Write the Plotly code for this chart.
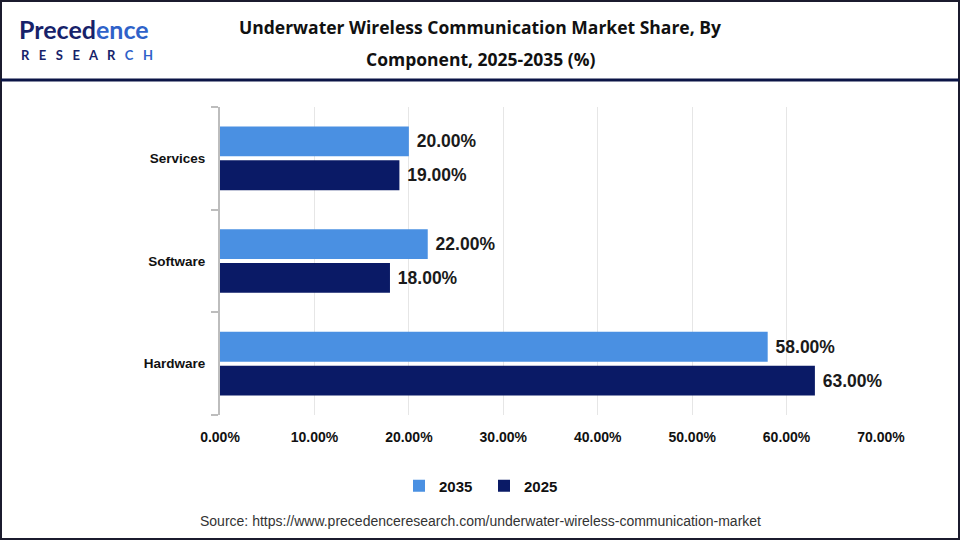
import plotly.graph_objects as go

categories = ["Hardware", "Software", "Services"]
values_2025 = [63.0, 18.0, 19.0]
values_2035 = [58.0, 22.0, 20.0]
x_ticks = [0, 10, 20, 30, 40, 50, 60, 70]
x_tick_labels = ["0.00%", "10.00%", "20.00%", "30.00%", "40.00%", "50.00%", "60.00%", "70.00%"]

W, H = 960, 540
ML, MR, MT, MB = 220, 79, 107, 125
PW, PH = W - ML - MR, H - MT - MB

def px(x):
    return (x - ML) / PW

def py(y):
    return (H - MB - y) / PH

LIGHT = "#4A90E2"
DARK = "#0A1A66"
FONT = "Liberation Sans, Arial, sans-serif"

fig = go.Figure()
fig.add_trace(go.Bar(
    y=categories, x=values_2025, orientation="h", name="2025",
    marker=dict(color=DARK, line=dict(width=0)),
    text=[f" {v:.2f}%" for v in values_2025], textposition="outside",
    textfont=dict(size=17.5, color="#1a1a1a", family=FONT, weight="bold"),
    cliponaxis=False, constraintext="none",
))
fig.add_trace(go.Bar(
    y=categories, x=values_2035, orientation="h", name="2035",
    marker=dict(color=LIGHT, line=dict(width=0)),
    text=[f" {v:.2f}%" for v in values_2035], textposition="outside",
    textfont=dict(size=17.5, color="#1a1a1a", family=FONT, weight="bold"),
    cliponaxis=False, constraintext="none",
))

shapes = [
    dict(type="rect", xref="paper", yref="paper",
         x0=px(1), x1=px(W - 1), y0=py(1), y1=py(H - 1),
         line=dict(color="#1b1b2e", width=2), fillcolor="rgba(0,0,0,0)", layer="above"),
    dict(type="line", xref="paper", yref="paper",
         x0=px(1), x1=px(W - 1), y0=py(80), y1=py(80),
         line=dict(color="#0B1446", width=3)),
]

TITLE_FONT = dict(family="Open Sans, sans-serif", size=17.5, color="#111111", weight="bold")
annotations = [
    dict(text="Underwater Wireless Communication Market Share, By",
         xref="paper", yref="paper", x=px(480), y=py(27), xanchor="center", yanchor="middle",
         showarrow=False, font=TITLE_FONT),
    dict(text="Component, 2025-2035 (%)",
         xref="paper", yref="paper", x=px(480), y=py(59), xanchor="center", yanchor="middle",
         showarrow=False, font=TITLE_FONT),
    dict(text="<b><span style='color:#17226A'>Preced</span><span style='color:#2F62C9'>ence</span></b>",
         xref="paper", yref="paper", x=px(17), y=py(29), xanchor="left", yanchor="middle",
         showarrow=False, font=dict(family="Lato, sans-serif", size=25, color="#1B2A78")),
    dict(text="<b><span style='color:#17226A'>R   E   S   E   A   R   </span><span style='color:#2F62C9'>C   H</span></b>",
         xref="paper", yref="paper", x=px(19), y=py(55), xanchor="left", yanchor="middle",
         showarrow=False, font=dict(family="Lato, sans-serif", size=13, color="#1B2A78")),
    dict(text="Source: https://www.precedenceresearch.com/underwater-wireless-communication-market",
         xref="paper", yref="paper", x=px(480), y=py(521), xanchor="center", yanchor="middle",
         showarrow=False, font=dict(family=FONT, size=14, color="#333333")),
]

fig.update_layout(
    width=W, height=H,
    margin=dict(l=ML, r=MR, t=MT, b=MB),
    paper_bgcolor="white", plot_bgcolor="white",
    barmode="group", bargap=0.34, bargroupgap=0.12,
    showlegend=True,
    legend=dict(orientation="h", x=px(484), y=py(486), xanchor="center", yanchor="middle",
                traceorder="reversed", font=dict(family=FONT, size=15, color="#111111", weight="bold"),
                itemwidth=30, entrywidth=40, entrywidthmode="pixels"),
    xaxis=dict(range=[0, 70], tickvals=x_ticks, ticktext=x_tick_labels,
               showgrid=True, gridcolor="#E6E6E6", gridwidth=1, zeroline=False,
               showline=False, ticks="", ticklabelstandoff=12,
               tickfont=dict(family=FONT, size=14, color="#111111", weight="bold")),
    yaxis=dict(showline=True, linecolor="#BDBDBD", linewidth=2, ticks="outside",
               tickson="boundaries", ticklen=7, tickcolor="#BDBDBD", tickwidth=2,
               showgrid=False, ticklabelstandoff=10,
               tickfont=dict(family=FONT, size=13.5, color="#111111", weight="bold")),
    shapes=shapes, annotations=annotations,
)

fig.write_html("out.html")
